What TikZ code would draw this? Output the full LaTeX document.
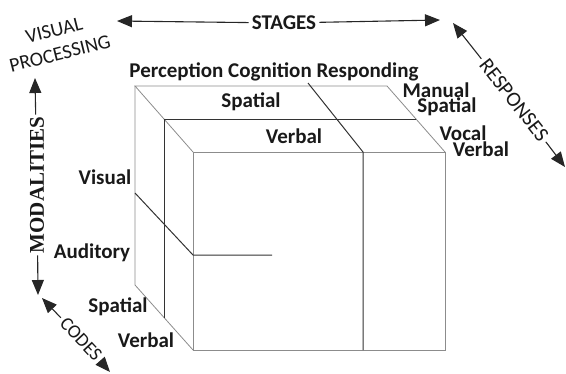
\documentclass[tikz,border=0pt]{standalone}
\usepackage{fontspec}
\setmainfont{Carlito}
\newfontfamily\serifbold{Liberation Serif}
\usetikzlibrary{arrows.meta}

\tikzset{
  edge/.style={draw=black!45,line width=0.8pt},
  divider/.style={draw=black!80,line width=1pt},
  axis/.style={line width=1.1pt,black!85,{Triangle[length=15pt,width=12pt]}-},
  lbl/.style={inner sep=1pt,font=\fontsize{21}{22}\selectfont\bfseries,text=black!90},
  dimlbl/.style={inner sep=3pt,font=\fontsize{20}{20}\selectfont,text=black!90}
}

\begin{document}
\begin{tikzpicture}[x=1pt,y=-1pt]
    \useasboundingbox (0,0) rectangle (566,373);

    % cube corners
    \coordinate (bTL) at (135,86);
    \coordinate (bTR) at (387,86);
    \coordinate (bBL) at (135,285);
    \coordinate (fTL) at (193,152);
    \coordinate (fTR) at (445,152);
    \coordinate (fBL) at (193,350);
    \coordinate (fBR) at (445,350);

    \draw[edge] (fTL) rectangle (fBR);
    \draw[edge] (fTL) -- (bTL) -- (bTR) -- (fTR);
    \draw[edge] (bTL) -- (bBL) -- (fBL);

    % codes split
    \coordinate (mT) at (164,119);
    \coordinate (mR) at (416,119);
    \coordinate (mB) at (164,318);
    \draw[divider] (mR) -- (mT) -- (mB);

    % stages split
    \coordinate (cBack) at (308,83);
    \coordinate (cTop) at (363,152);
    \coordinate (cBot) at (363,350);
    \draw[divider] (cBack) -- (cTop) -- (cBot);

    % modalities split
    \coordinate (aBack) at (135,193);
    \coordinate (aFront) at (193,255);
    \coordinate (aEnd) at (272,255);
    \draw[divider] (aBack) -- (aFront) -- (aEnd);

    % labels on the cube
    \node[lbl] (stagelbl) at (274,72) {Perception Cognition Responding};
    \node[lbl] (spatialtop) at (251,102) {Spatial};
    \node[lbl] (verbaltop) at (294,136) {Verbal};
    \node[lbl] (visual) at (105,177) {Visual};
    \node[lbl] (auditory) at (92,253) {Auditory};
    \node[lbl] (spatialside) at (118,307) {Spatial};
    \node[lbl] (verbalside) at (146,340) {Verbal};
    \node[lbl] (manual) at (436,90) {Manual};
    \node[lbl] (spatialright) at (447,107) {Spatial};
    \node[lbl] (vocal) at (463,133) {Vocal};
    \node[lbl] (verbalright) at (481,149) {Verbal};

    % dimensions
    \node[dimlbl,font=\fontsize{21}{21}\selectfont\bfseries] (stages) at (284,23) {STAGES};
    \coordinate (stL) at (117,21);
    \coordinate (stR) at (440,20);
    \draw[axis] (stL) -- (stages);
    \draw[axis] (stR) -- (stages);

    \node[dimlbl,align=center,rotate=14,font=\fontsize{20}{24}\selectfont] (visproc) at (57,42) {VISUAL\\PROCESSING};

    \node[dimlbl,rotate=90,inner sep=2pt,font=\fontsize{21}{21}\selectfont\serifbold\bfseries] (modal) at (37,185) {MODALITIES};
    \coordinate (moTop) at (35,78);
    \coordinate (moBot) at (38,295);
    \draw[axis] (moTop) -- (modal);
    \draw[axis] (moBot) -- (modal);

    \node[dimlbl,rotate=-47,font=\fontsize{19}{19}\selectfont] (codes) at (81,339) {CODES};
    \coordinate (coTop) at (42,298);
    \coordinate (coBot) at (110,372);
    \draw[axis] (coTop) -- (codes);
    \draw[axis] (coBot) -- (codes);

    \node[dimlbl,rotate=-52,font=\fontsize{21}{21}\selectfont] (resp) at (514,100) {RESPONSES};
    \coordinate (reTop) at (453,23);
    \coordinate (reBot) at (565,167);
    \draw[axis] (reTop) -- (resp);
    \draw[axis] (reBot) -- (resp);
\end{tikzpicture}
\end{document}
